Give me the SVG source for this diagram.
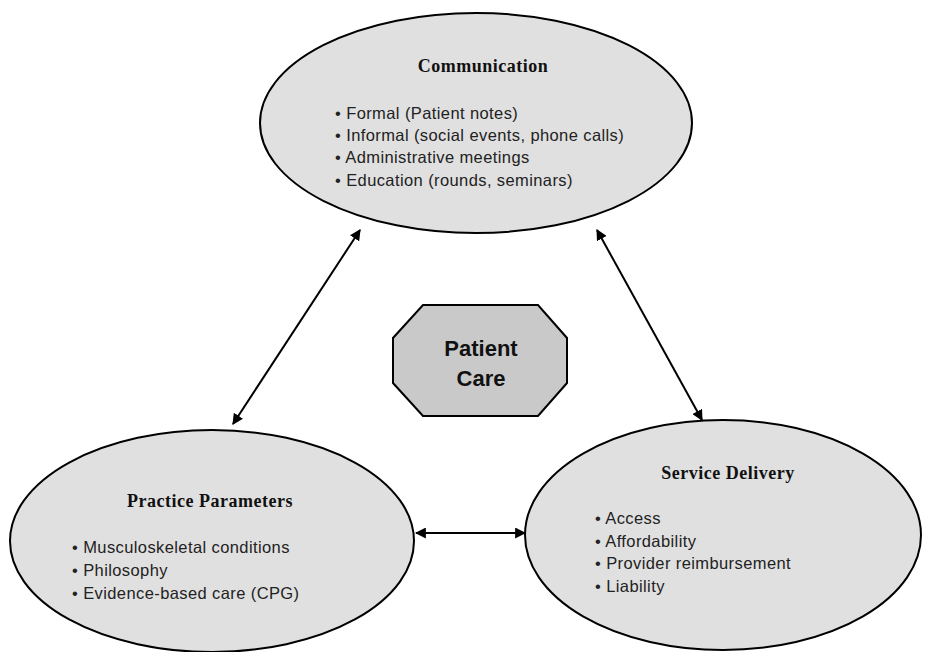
<svg xmlns="http://www.w3.org/2000/svg" width="935" height="652" viewBox="0 0 935 652">
<style>
.ell{fill:#e0e0e0;stroke:#000;stroke-width:2}
.oct{fill:#c9c9c9;stroke:#000;stroke-width:2}
.title{font-family:"Liberation Serif",serif;font-weight:bold;font-size:18px;letter-spacing:0.5px;text-anchor:middle;fill:#111}
.item{font-family:"Liberation Sans",Arial,sans-serif;font-size:16.5px;letter-spacing:0.4px;fill:#222}
.pc{font-family:"Liberation Sans",Arial,sans-serif;font-weight:bold;font-size:22px;text-anchor:middle;fill:#111}
.con{stroke:#000;stroke-width:2;fill:none;marker-start:url(#ah);marker-end:url(#ah)}
</style>
<defs>
<marker id="ah" viewBox="0 0 10 10" refX="9" refY="5" markerWidth="5.5" markerHeight="5.5" orient="auto-start-reverse" markerUnits="strokeWidth">
<path d="M0,0 L10,5 L0,10 z" fill="#000"/>
</marker>
</defs>
<rect width="935" height="652" fill="#fff"/>
<g id="connectors">
<line class="con" x1="360" y1="230" x2="233" y2="424"/>
<line class="con" x1="597" y1="230" x2="702" y2="420"/>
<line class="con" x1="416" y1="533" x2="525" y2="533"/>
</g>
<g id="communication">
<ellipse class="ell" cx="476" cy="123" rx="216" ry="110"/>
<text class="title" x="483" y="72">Communication</text>
<text class="item" x="335" y="119">• Formal (Patient notes)</text>
<text class="item" x="335" y="141">• Informal (social events, phone calls)</text>
<text class="item" x="335" y="163">• Administrative meetings</text>
<text class="item" x="335" y="186">• Education (rounds, seminars)</text>
</g>
<g id="patient-care">
<polygon class="oct" points="423,305 538,305 567,338 567,383 538,416 423,416 393,383 393,338"/>
<text class="pc" x="481" y="356">Patient</text>
<text class="pc" x="481" y="386">Care</text>
</g>
<g id="practice-parameters">
<ellipse class="ell" cx="212" cy="541" rx="202" ry="111"/>
<text class="title" x="210" y="507">Practice Parameters</text>
<text class="item" x="72" y="553">• Musculoskeletal conditions</text>
<text class="item" x="72" y="576">• Philosophy</text>
<text class="item" x="72" y="599">• Evidence-based care (CPG)</text>
</g>
<g id="service-delivery">
<ellipse class="ell" cx="723" cy="535" rx="198" ry="115"/>
<text class="title" x="728" y="479">Service Delivery</text>
<text class="item" x="595" y="524">• Access</text>
<text class="item" x="595" y="547">• Affordability</text>
<text class="item" x="595" y="569">• Provider reimbursement</text>
<text class="item" x="595" y="592">• Liability</text>
</g>
</svg>
